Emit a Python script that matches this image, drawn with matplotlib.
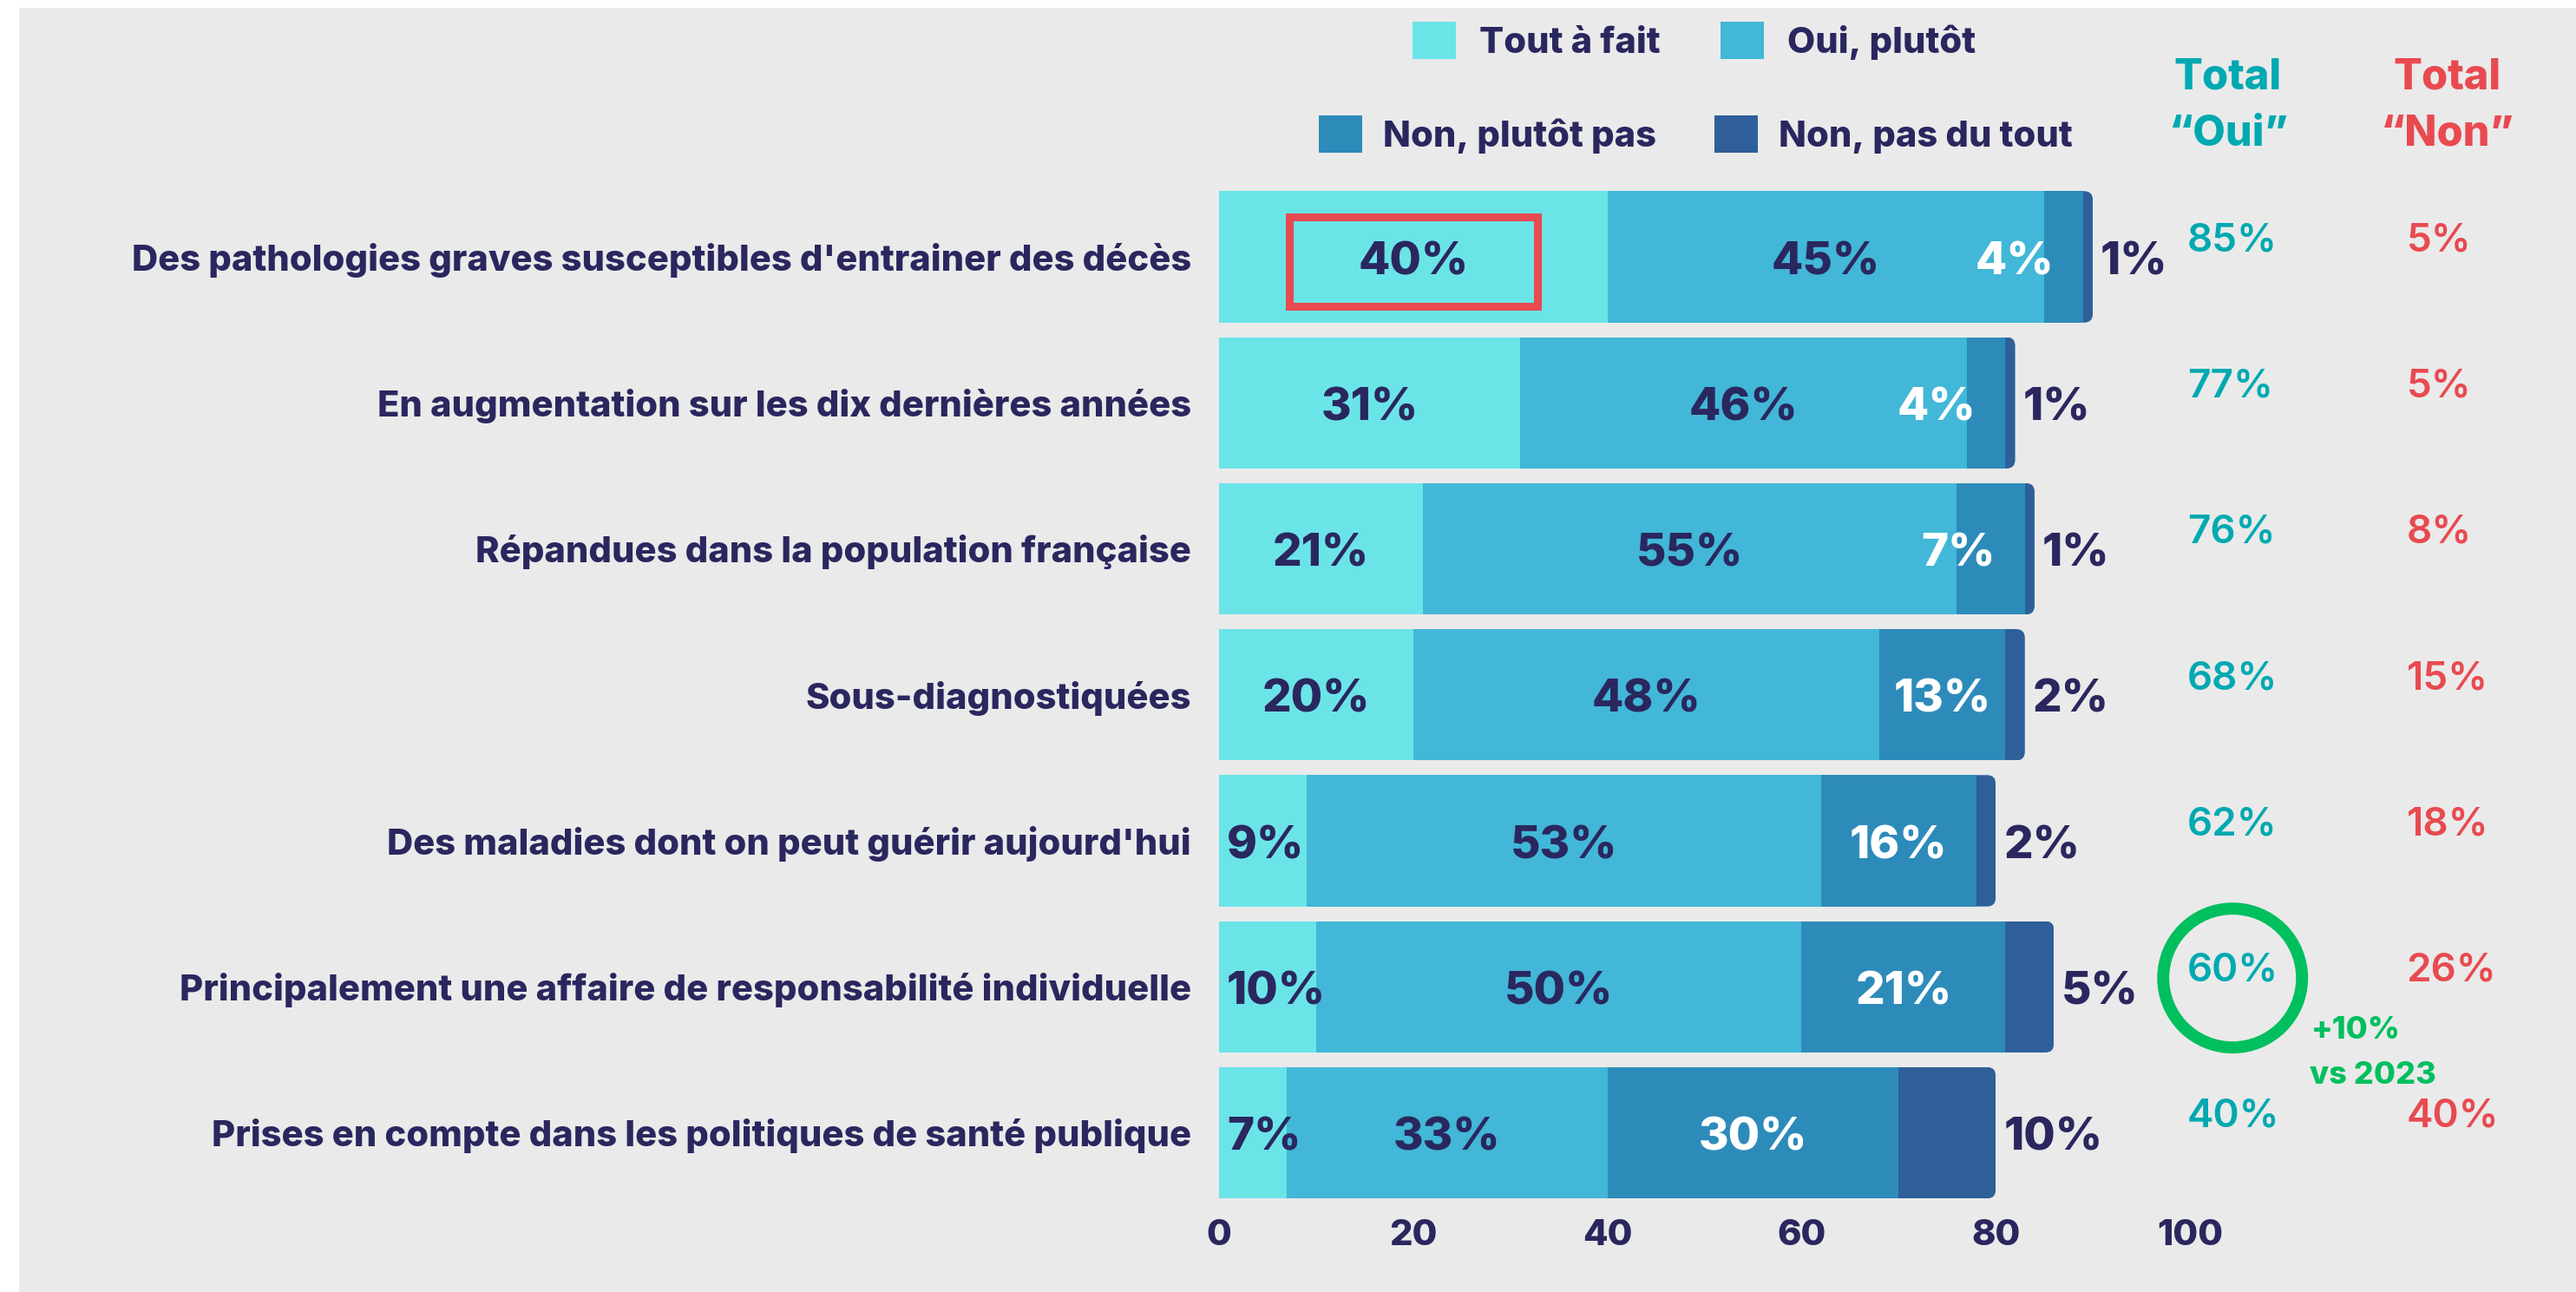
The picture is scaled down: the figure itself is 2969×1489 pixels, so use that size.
import numpy as np
import matplotlib.pyplot as plt
from matplotlib.patches import Patch, Rectangle, FancyBboxPatch, Ellipse

plt.rcParams['font.family'] = ['Inter', 'DejaVu Sans']
plt.rcParams['font.weight'] = 'heavy'

# donnees
categories = ["Des pathologies graves susceptibles d'entrainer des décès",
              "En augmentation sur les dix dernières années",
              "Répandues dans la population française",
              "Sous-diagnostiquées",
              "Des maladies dont on peut guérir aujourd'hui",
              "Principalement une affaire de responsabilité individuelle",
              "Prises en compte dans les politiques de santé publique"]
series_names = ['Tout à fait', 'Oui, plutôt', 'Non, plutôt pas', 'Non, pas du tout']
tout_a_fait = [40, 31, 21, 20, 9, 10, 7]
oui_plutot = [45, 46, 55, 48, 53, 50, 33]
non_plutot_pas = [4, 4, 7, 13, 16, 21, 30]
non_pas_du_tout = [1, 1, 1, 2, 2, 5, 10]
total_oui = [85, 77, 76, 68, 62, 60, 40]
total_non = [5, 5, 8, 15, 18, 26, 40]
x_ticks = [0, 20, 40, 60, 80, 100]
highlight_row = 5
evolution_txt = '+10%'
evolution_ref = 'vs 2023'

colors = ['#6be4e8', '#42b7d7', '#2d8bba', '#2e5f99']
navy = '#2a275f'
teal = '#00a9b1'
red = '#e84a50'
green = '#00bf5f'
bg = '#eaeaea'

W, H = 2969, 1489
fig = plt.figure(figsize=(W / 100, H / 100), dpi=100)
fig.patch.set_facecolor('white')


def fx(px):
    return px / W


def fy(py):
    return 1 - py / H


fig.patches.append(Rectangle((fx(22), 0), 1, fy(9), transform=fig.transFigure,
                             facecolor=bg, edgecolor='none', zorder=-10))

ax = fig.add_axes([fx(1405), fy(1395), (W - 1405) / W, (1395 - 200) / H])
ax.set_facecolor('none')
ppu = 11.19  # pixels par point de %
ax.set_xlim(0, (W - 1405) / ppu)
ax.set_ylim(6.532, -0.5706)
for s in ax.spines.values():
    s.set_visible(False)

series = [tout_a_fait, oui_plutot, non_plutot_pas, non_pas_du_tout]
y = np.arange(len(categories))
bar_h = 0.9
left = np.zeros(len(categories))
bars = []
for vals, c in zip(series, colors):
    b = ax.barh(y, vals, left=left, height=bar_h, color=c, edgecolor='none', zorder=2)
    bars.append(b)
    left = left + np.array(vals)
totals = left

# bout arrondi
for i, rect in enumerate(bars[3]):
    rounded = FancyBboxPatch((0, y[i] - bar_h / 2), totals[i], bar_h,
                             boxstyle='round,pad=0,rounding_size=0.9', mutation_aspect=0.066,
                             transform=ax.transData)
    rect.set_clip_path(rounded)

# etiquettes dans les barres
for i in range(len(categories)):
    cum = 0
    for j in range(3):
        v = series[j][i]
        if j == 2 and v < 10:
            xpos, ha = cum + v - 3, 'right'
        elif j == 0 and v < 12:
            xpos, ha = 0.8, 'left'
        else:
            xpos, ha = cum + v / 2, 'center'
        ax.text(xpos, y[i] + 0.04, f'{v}%', ha=ha, va='center', fontsize=38,
                color='white' if j == 2 else navy, zorder=5)
        cum += v
    ax.text(totals[i] + 0.8, y[i] + 0.04, f'{non_pas_du_tout[i]}%', ha='left', va='center',
            fontsize=38, color=navy)
    ax.text(99.7, y[i] - 0.11, f'{total_oui[i]}%', ha='left', va='center', fontsize=33,
            color=teal, fontweight='semibold')
    ax.text(122.3, y[i] - 0.11, f'{total_non[i]}%', ha='left', va='center', fontsize=33,
            color=red, fontweight='semibold')

ax.text(103.9, -1.23, 'Total', ha='center', va='center', fontsize=35, color=teal)
ax.text(103.9, -0.84, '“Oui”', ha='center', va='center', fontsize=35, color=teal)
ax.text(126.5, -1.23, 'Total', ha='center', va='center', fontsize=35, color=red)
ax.text(126.5, -0.84, '“Non”', ha='center', va='center', fontsize=35, color=red)

# mises en avant
ax.add_patch(Rectangle((7.2, -0.276), 25.6, 0.612, fill=False, edgecolor=red, linewidth=6.5, zorder=4))
ax.add_patch(Ellipse((104.4, highlight_row - 0.06), 160 / ppu, 160 / 168.25, fill=False,
                     edgecolor=green, linewidth=10, clip_on=False))
ax.text(112.5, highlight_row + 0.30, evolution_txt, ha='left', va='center', fontsize=26, color=green)
ax.text(112.3, highlight_row + 0.61, evolution_ref, ha='left', va='center', fontsize=26, color=green)

# axes
ax.set_xticks(x_ticks)
ax.set_yticks(y, categories)
ax.tick_params(axis='x', length=0, pad=7, labelsize=30, labelcolor=navy)
ax.tick_params(axis='y', length=0, pad=23, labelsize=30, labelcolor=navy)

# legende sur deux lignes
handles = [Patch(facecolor=c, edgecolor='none') for c in colors]
leg1 = ax.legend(handles[:2], series_names[:2], loc='center left', ncol=2,
                 bbox_to_anchor=(fx(1628), fy(47)), bbox_transform=fig.transFigure,
                 frameon=False, fontsize=30, labelcolor=navy, handlelength=1.2, handleheight=1.2,
                 handletextpad=0.66, columnspacing=1.65, borderpad=0, borderaxespad=0)
ax.add_artist(leg1)
ax.legend(handles[2:], series_names[2:], loc='center left', ncol=2,
          bbox_to_anchor=(fx(1520), fy(155)), bbox_transform=fig.transFigure,
          frameon=False, fontsize=30, labelcolor=navy, handlelength=1.2, handleheight=1.2,
          handletextpad=0.58, columnspacing=1.6, borderpad=0, borderaxespad=0)

fig.savefig('out.png', dpi=100, facecolor=fig.get_facecolor())
